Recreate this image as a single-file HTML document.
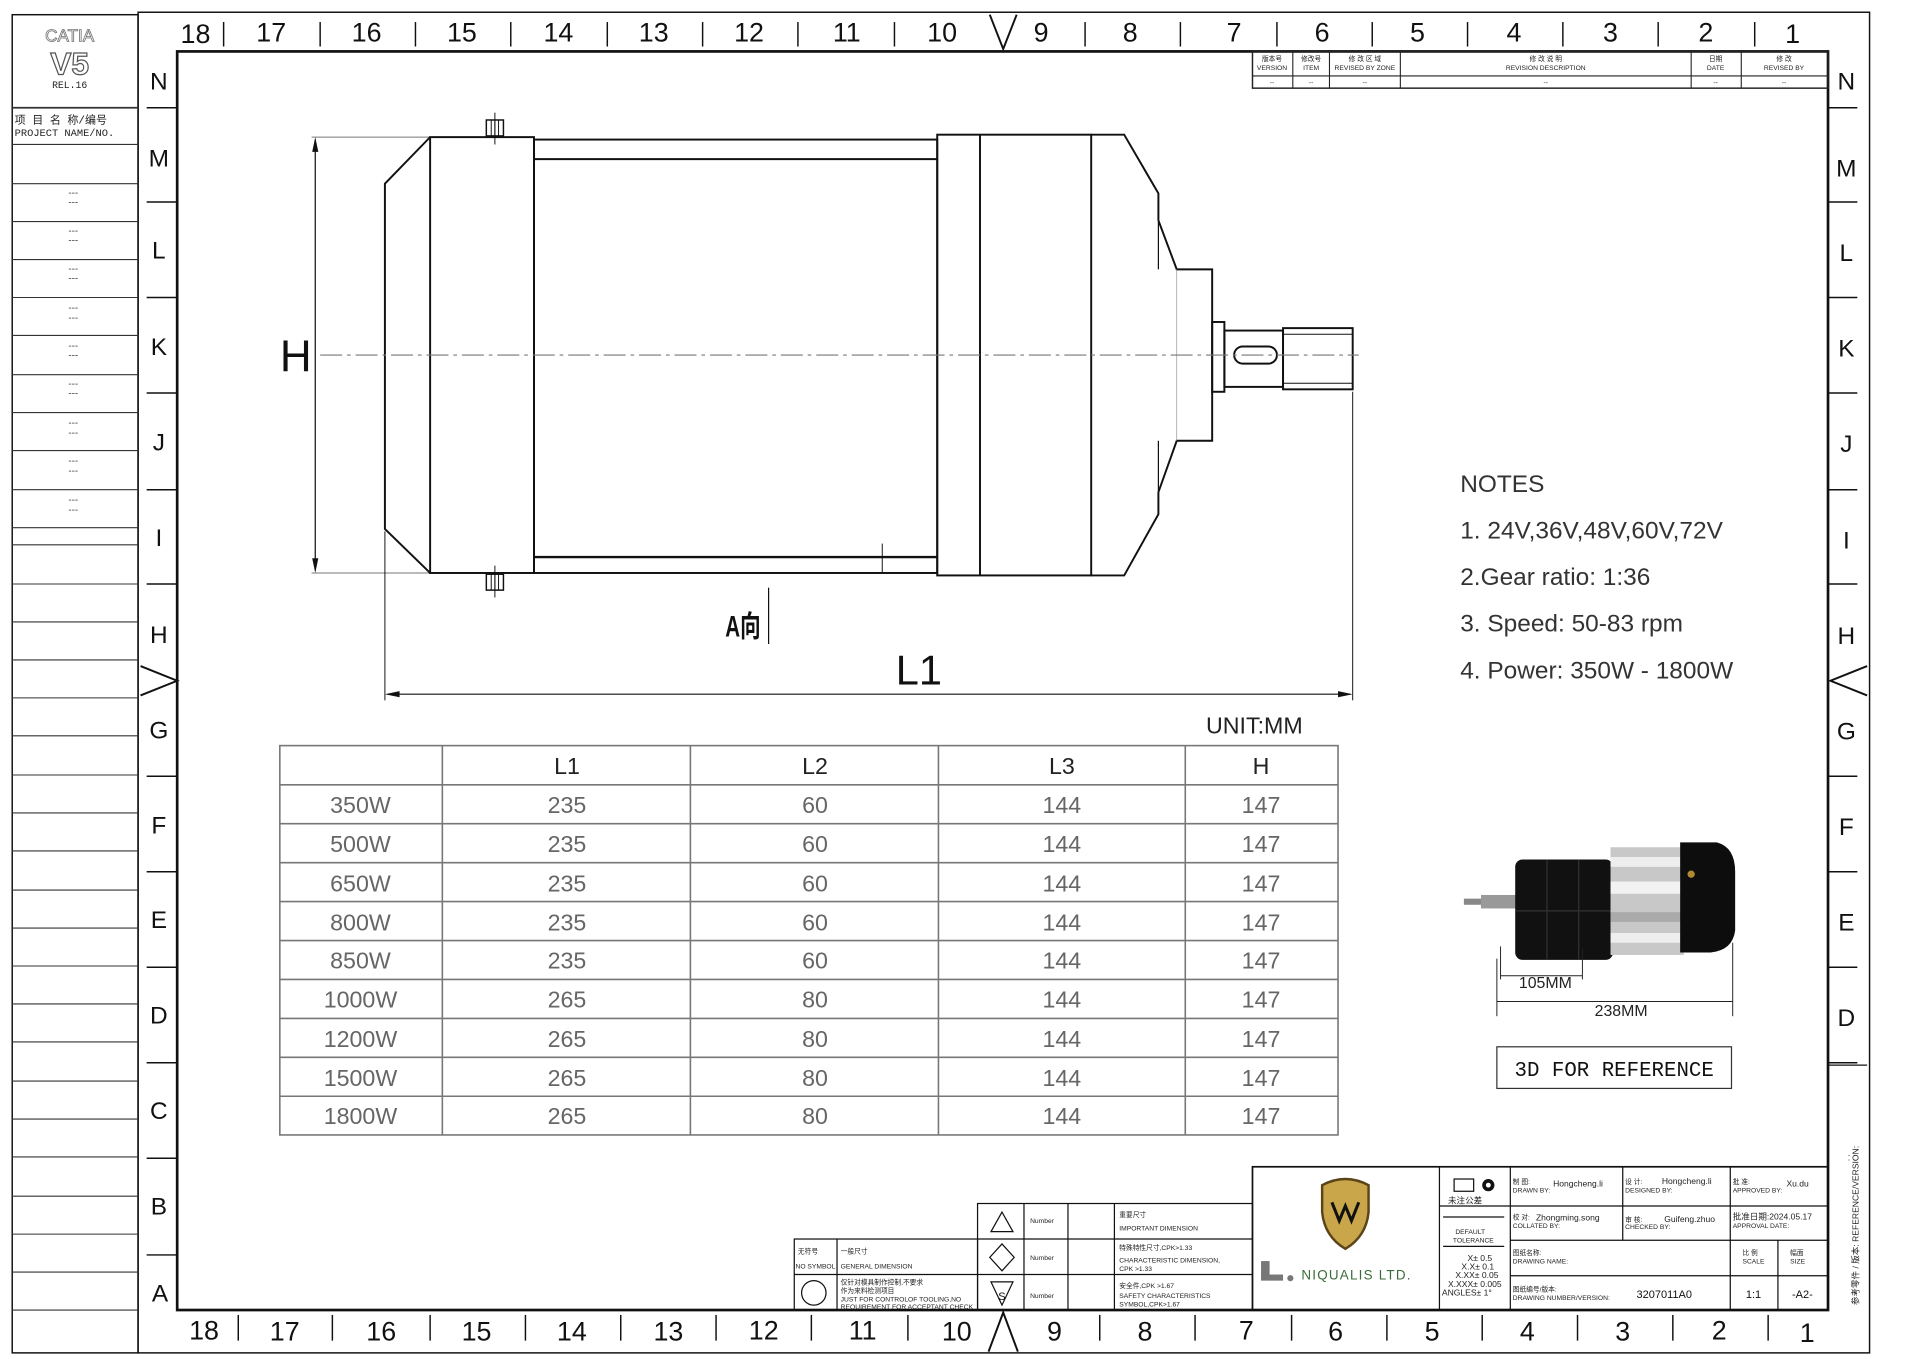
<!DOCTYPE html>
<html><head><meta charset="utf-8"><style>
html,body{margin:0;padding:0;background:#fff;}
svg{display:block;}
text{font-family:"Liberation Sans","Noto Sans CJK SC",sans-serif;}
.m{font-family:"Liberation Mono","Noto Sans CJK SC",monospace;}
.r{font-size:22px;text-anchor:middle;fill:#111;}
.l{font-size:20px;text-anchor:middle;fill:#111;}
.t{font-size:19px;text-anchor:middle;fill:#666;}
.th{font-size:19px;text-anchor:middle;fill:#222;}
.s{font-size:5.5px;fill:#222;}
</style></head><body>
<svg width="1916" height="1359" viewBox="0 0 1568 1110" preserveAspectRatio="none" xmlns="http://www.w3.org/2000/svg">
<rect width="1568" height="1110" fill="#fff"/>
<!-- outer frames -->
<g fill="none" stroke="#111">
<rect x="10" y="12" width="103" height="1093" stroke-width="1.2"/>
<rect x="113" y="10" width="1417" height="1095" stroke-width="1.2"/>
<rect x="145" y="42" width="1351" height="1028" stroke-width="2.2"/>
</g>
<!-- left panel -->
<g stroke="#333" stroke-width="0.9">
<line x1="10" y1="88" x2="113" y2="88" stroke-width="1.4"/>
<line x1="10" y1="118" x2="113" y2="118"/><line x1="10" y1="150" x2="113" y2="150"/><line x1="10" y1="181" x2="113" y2="181"/><line x1="10" y1="212" x2="113" y2="212"/><line x1="10" y1="243" x2="113" y2="243"/><line x1="10" y1="274" x2="113" y2="274"/><line x1="10" y1="306" x2="113" y2="306"/><line x1="10" y1="337" x2="113" y2="337"/><line x1="10" y1="368" x2="113" y2="368"/><line x1="10" y1="400" x2="113" y2="400"/><line x1="10" y1="431" x2="113" y2="431"/><line x1="10" y1="445" x2="113" y2="445"/><line x1="10" y1="477" x2="113" y2="477"/><line x1="10" y1="508" x2="113" y2="508"/><line x1="10" y1="539" x2="113" y2="539"/><line x1="10" y1="570" x2="113" y2="570"/><line x1="10" y1="601" x2="113" y2="601"/><line x1="10" y1="633" x2="113" y2="633"/><line x1="10" y1="664" x2="113" y2="664"/><line x1="10" y1="695" x2="113" y2="695"/><line x1="10" y1="727" x2="113" y2="727"/><line x1="10" y1="758" x2="113" y2="758"/><line x1="10" y1="789" x2="113" y2="789"/><line x1="10" y1="820" x2="113" y2="820"/><line x1="10" y1="851" x2="113" y2="851"/><line x1="10" y1="883" x2="113" y2="883"/><line x1="10" y1="914" x2="113" y2="914"/><line x1="10" y1="945" x2="113" y2="945"/><line x1="10" y1="977" x2="113" y2="977"/><line x1="10" y1="1008" x2="113" y2="1008"/><line x1="10" y1="1039" x2="113" y2="1039"/><line x1="10" y1="1070" x2="113" y2="1070"/>
</g>
<text x="57" y="34" font-size="14" text-anchor="middle" fill="#fff" stroke="#777" stroke-width="0.7">CATIA</text>
<text x="57" y="61" font-size="26" font-weight="bold" text-anchor="middle" fill="#fff" stroke="#555" stroke-width="1">V5</text>
<text x="57" y="72" font-size="8" text-anchor="middle" class="m" fill="#222">REL.16</text>
<text x="12" y="101" font-size="9" class="m" fill="#222">项 目 名 称/编号</text>
<text x="12" y="111" font-size="8.5" class="m" fill="#222">PROJECT NAME/NO.</text>
<g font-size="8" fill="#444" text-anchor="middle" class="m">
<text x="60" y="160">---</text><text x="60" y="168">---</text>
<text x="60" y="191">---</text><text x="60" y="199">---</text>
<text x="60" y="222">---</text><text x="60" y="230">---</text>
<text x="60" y="254">---</text><text x="60" y="262">---</text>
<text x="60" y="285">---</text><text x="60" y="293">---</text>
<text x="60" y="316">---</text><text x="60" y="324">---</text>
<text x="60" y="348">---</text><text x="60" y="356">---</text>
<text x="60" y="379">---</text><text x="60" y="387">---</text>
<text x="60" y="411">---</text><text x="60" y="419">---</text>
</g>
<!-- top ruler -->
<g stroke="#111" stroke-width="1.2">
<line x1="183" y1="18" x2="183" y2="38"/><line x1="262" y1="18" x2="262" y2="38"/><line x1="340" y1="18" x2="340" y2="38"/><line x1="418" y1="18" x2="418" y2="38"/><line x1="497" y1="18" x2="497" y2="38"/><line x1="575" y1="18" x2="575" y2="38"/><line x1="653" y1="18" x2="653" y2="38"/><line x1="732" y1="18" x2="732" y2="38"/><line x1="888" y1="18" x2="888" y2="38"/><line x1="966" y1="18" x2="966" y2="38"/><line x1="1045" y1="18" x2="1045" y2="38"/><line x1="1123" y1="18" x2="1123" y2="38"/><line x1="1201" y1="18" x2="1201" y2="38"/><line x1="1279" y1="18" x2="1279" y2="38"/><line x1="1357" y1="18" x2="1357" y2="38"/><line x1="1436" y1="18" x2="1436" y2="38"/>
<polyline points="810,12 821,40 832,12" fill="none" stroke-width="1.6"/>
</g>
<g class="r">
<text x="160" y="35">18</text><text x="222" y="34">17</text><text x="300" y="34">16</text><text x="378" y="34">15</text><text x="457" y="34">14</text><text x="535" y="34">13</text><text x="613" y="34">12</text><text x="693" y="34">11</text><text x="771" y="34">10</text><text x="852" y="34">9</text><text x="925" y="34">8</text><text x="1010" y="34">7</text><text x="1082" y="34">6</text><text x="1160" y="34">5</text><text x="1239" y="34">4</text><text x="1318" y="34">3</text><text x="1396" y="34">2</text><text x="1467" y="35">1</text>
</g>
<!-- bottom ruler -->
<g stroke="#111" stroke-width="1.2">
<line x1="195" y1="1074" x2="195" y2="1095"/><line x1="272" y1="1074" x2="272" y2="1095"/><line x1="352" y1="1074" x2="352" y2="1095"/><line x1="430" y1="1074" x2="430" y2="1095"/><line x1="508" y1="1074" x2="508" y2="1095"/><line x1="586" y1="1074" x2="586" y2="1095"/><line x1="664" y1="1074" x2="664" y2="1095"/><line x1="743" y1="1074" x2="743" y2="1095"/><line x1="900" y1="1074" x2="900" y2="1095"/><line x1="978" y1="1074" x2="978" y2="1095"/><line x1="1057" y1="1074" x2="1057" y2="1095"/><line x1="1135" y1="1074" x2="1135" y2="1095"/><line x1="1213" y1="1074" x2="1213" y2="1095"/><line x1="1291" y1="1074" x2="1291" y2="1095"/><line x1="1369" y1="1074" x2="1369" y2="1095"/><line x1="1447" y1="1074" x2="1447" y2="1095"/>
<polyline points="809,1104 821,1072 833,1104" fill="none" stroke-width="1.6"/>
</g>
<g class="r">
<text x="167" y="1094">18</text><text x="233" y="1095">17</text><text x="312" y="1095">16</text><text x="390" y="1095">15</text><text x="468" y="1095">14</text><text x="547" y="1095">13</text><text x="625" y="1094">12</text><text x="706" y="1094">11</text><text x="783" y="1095">10</text><text x="863" y="1095">9</text><text x="937" y="1095">8</text><text x="1020" y="1094">7</text><text x="1093" y="1095">6</text><text x="1172" y="1095">5</text><text x="1250" y="1095">4</text><text x="1328" y="1095">3</text><text x="1407" y="1094">2</text><text x="1479" y="1096">1</text>
</g>
<!-- left ruler -->
<g stroke="#111" stroke-width="1.2">
<line x1="120" y1="88" x2="145" y2="88"/><line x1="120" y1="165" x2="145" y2="165"/><line x1="120" y1="243" x2="145" y2="243"/><line x1="120" y1="321" x2="145" y2="321"/><line x1="120" y1="400" x2="145" y2="400"/><line x1="120" y1="477" x2="145" y2="477"/><line x1="120" y1="634" x2="145" y2="634"/><line x1="120" y1="712" x2="145" y2="712"/><line x1="120" y1="790" x2="145" y2="790"/><line x1="120" y1="868" x2="145" y2="868"/><line x1="120" y1="946" x2="145" y2="946"/><line x1="120" y1="1025" x2="145" y2="1025"/>
<polyline points="115,544 145,556 115,568" fill="none" stroke-width="1.6"/>
<line x1="1496" y1="88" x2="1520" y2="88"/><line x1="1496" y1="165" x2="1520" y2="165"/><line x1="1496" y1="243" x2="1520" y2="243"/><line x1="1496" y1="321" x2="1520" y2="321"/><line x1="1496" y1="400" x2="1520" y2="400"/><line x1="1496" y1="477" x2="1520" y2="477"/><line x1="1496" y1="634" x2="1520" y2="634"/><line x1="1496" y1="712" x2="1520" y2="712"/><line x1="1496" y1="790" x2="1520" y2="790"/><line x1="1496" y1="868" x2="1520" y2="868"/>
<polyline points="1528,544 1498,556 1528,568" fill="none" stroke-width="1.6"/>
</g>
<g class="l">
<text x="130" y="73">N</text><text x="130" y="136">M</text><text x="130" y="211">L</text><text x="130" y="290">K</text><text x="130" y="368">J</text><text x="130" y="446">I</text><text x="130" y="525">H</text><text x="130" y="603">G</text><text x="130" y="681">F</text><text x="130" y="758">E</text><text x="130" y="836">D</text><text x="130" y="914">C</text><text x="130" y="992">B</text><text x="131" y="1063">A</text>
<text x="1511" y="73">N</text><text x="1511" y="144">M</text><text x="1511" y="213">L</text><text x="1511" y="291">K</text><text x="1511" y="369">J</text><text x="1511" y="448">I</text><text x="1511" y="526">H</text><text x="1511" y="604">G</text><text x="1511" y="682">F</text><text x="1511" y="760">E</text><text x="1511" y="838">D</text>
</g>
<!-- revision block -->
<g stroke="#222" stroke-width="0.9" fill="none">
<rect x="1025" y="42" width="471" height="30" stroke-width="1.2"/>
<line x1="1025" y1="62" x2="1496" y2="62"/>
<line x1="1058" y1="42" x2="1058" y2="72"/><line x1="1088" y1="42" x2="1088" y2="72"/><line x1="1146" y1="42" x2="1146" y2="72"/><line x1="1384" y1="42" x2="1384" y2="72"/><line x1="1425" y1="42" x2="1425" y2="72"/>
</g>
<g class="s" text-anchor="middle">
<text x="1041" y="50">版本号</text><text x="1041" y="57">VERSION</text>
<text x="1073" y="50">修改号</text><text x="1073" y="57">ITEM</text>
<text x="1117" y="50">修 改 区 域</text><text x="1117" y="57">REVISED BY ZONE</text>
<text x="1265" y="50">修 改 说 明</text><text x="1265" y="57">REVISION DESCRIPTION</text>
<text x="1404" y="50">日期</text><text x="1404" y="57">DATE</text>
<text x="1460" y="50">修 改</text><text x="1460" y="57">REVISED BY</text>
<text x="1041" y="69">--</text><text x="1073" y="69">--</text><text x="1117" y="69">--</text><text x="1265" y="69">--</text><text x="1404" y="69">--</text><text x="1460" y="69">--</text>
</g>
<!-- motor drawing -->
<g stroke="#111" stroke-width="1.6" fill="none">
<line x1="255" y1="112" x2="352" y2="112" stroke-width="0.8" stroke="#777"/>
<line x1="255" y1="468" x2="352" y2="468" stroke-width="0.8" stroke="#777"/>
<line x1="258" y1="114" x2="258" y2="466" stroke-width="1"/>
<polygon points="258,112 255.5,124 260.5,124" fill="#111" stroke="none"/>
<polygon points="258,468 255.5,456 260.5,456" fill="#111" stroke="none"/>
<polyline points="352,112 315,150 315,432 352,468"/>
<rect x="352" y="112" width="85" height="356"/>
<rect x="437" y="114" width="330" height="354"/>
<line x1="437" y1="130" x2="767" y2="130"/>
<line x1="437" y1="455" x2="767" y2="455" stroke-width="2"/>
<line x1="722" y1="444" x2="722" y2="468" stroke-width="0.8"/>
<rect x="767" y="110" width="126" height="360"/>
<line x1="802" y1="110" x2="802" y2="470"/>
<polyline points="893,110 920,110 948,158 948,180"/>
<polyline points="948,180 963,220 992,220 992,360 963,360 948,402"/>
<polyline points="948,402 948,420 920,470 893,470"/>
<line x1="948" y1="180" x2="948" y2="220" stroke-width="1"/>
<line x1="948" y1="360" x2="948" y2="402" stroke-width="1"/>
<line x1="963" y1="220" x2="963" y2="360" stroke-width="0.6" stroke="#999"/>
<rect x="992" y="263" width="10" height="57"/>
<rect x="1002" y="270" width="48" height="46"/>
<rect x="1010" y="283" width="35" height="14" rx="7"/>
<rect x="1050" y="268" width="57" height="50"/>
<line x1="1050" y1="273" x2="1107" y2="273" stroke-width="0.8"/>
<line x1="1050" y1="313" x2="1107" y2="313" stroke-width="0.8"/>
<!-- bolts -->
<rect x="398" y="98" width="14" height="13" stroke-width="1.2"/>
<line x1="402" y1="98" x2="402" y2="111" stroke-width="0.8"/><line x1="405" y1="98" x2="405" y2="111" stroke-width="0.8"/><line x1="408" y1="98" x2="408" y2="111" stroke-width="0.8"/>
<line x1="405" y1="92" x2="405" y2="118" stroke-width="0.8"/>
<rect x="398" y="469" width="14" height="13" stroke-width="1.2"/>
<line x1="402" y1="469" x2="402" y2="482" stroke-width="0.8"/><line x1="405" y1="469" x2="405" y2="482" stroke-width="0.8"/><line x1="408" y1="469" x2="408" y2="482" stroke-width="0.8"/>
<line x1="405" y1="462" x2="405" y2="488" stroke-width="0.8"/>
<!-- L1 dim -->
<line x1="315" y1="434" x2="315" y2="572" stroke-width="0.8"/>
<line x1="1107" y1="320" x2="1107" y2="572" stroke-width="0.8"/>
<line x1="317" y1="567" x2="1105" y2="567" stroke-width="1"/>
<line x1="629" y1="480" x2="629" y2="526" stroke-width="1"/>
</g>
<polygon points="315,567 327,564.5 327,569.5" fill="#111"/>
<polygon points="1107,567 1095,564.5 1095,569.5" fill="#111"/>
<line x1="262" y1="290" x2="1112" y2="290" stroke="#777" stroke-width="1" stroke-dasharray="18,4,3,4"/>
<text x="242" y="303" font-size="36" text-anchor="middle" fill="#111">H</text>
<text x="752" y="559" font-size="34" text-anchor="middle" fill="#111">L1</text>
<text x="608" y="520" font-size="24" text-anchor="middle" fill="#111" font-weight="bold" transform="translate(608 520) scale(0.7 1) translate(-608 -520)">A向</text>
<!-- notes -->
<g font-size="20" fill="#333">
<text x="1195" y="402">NOTES</text>
<text x="1195" y="440">1. 24V,36V,48V,60V,72V</text>
<text x="1195" y="478">2.Gear ratio: 1:36</text>
<text x="1195" y="516">3. Speed: 50-83 rpm</text>
<text x="1195" y="554">4. Power: 350W - 1800W</text>
</g>
<text x="987" y="599" font-size="19" fill="#222">UNIT:MM</text>
<!-- table -->
<g stroke="#777" stroke-width="1.3" fill="none">
<rect x="229" y="609" width="866" height="318"/>
<line x1="362" y1="609" x2="362" y2="927"/><line x1="565" y1="609" x2="565" y2="927"/><line x1="768" y1="609" x2="768" y2="927"/><line x1="970" y1="609" x2="970" y2="927"/>
<line x1="229" y1="641" x2="1095" y2="641"/><line x1="229" y1="672.8" x2="1095" y2="672.8"/><line x1="229" y1="704.6" x2="1095" y2="704.6"/><line x1="229" y1="736.4" x2="1095" y2="736.4"/><line x1="229" y1="768.2" x2="1095" y2="768.2"/><line x1="229" y1="800" x2="1095" y2="800"/><line x1="229" y1="831.8" x2="1095" y2="831.8"/><line x1="229" y1="863.6" x2="1095" y2="863.6"/><line x1="229" y1="895.4" x2="1095" y2="895.4"/>
</g>
<g class="th"><text x="464" y="632">L1</text><text x="667" y="632">L2</text><text x="869" y="632">L3</text><text x="1032" y="632">H</text></g>
<g class="t">
<text x="295" y="664">350W</text><text x="464" y="664">235</text><text x="667" y="664">60</text><text x="869" y="664">144</text><text x="1032" y="664">147</text>
<text x="295" y="696">500W</text><text x="464" y="696">235</text><text x="667" y="696">60</text><text x="869" y="696">144</text><text x="1032" y="696">147</text>
<text x="295" y="728">650W</text><text x="464" y="728">235</text><text x="667" y="728">60</text><text x="869" y="728">144</text><text x="1032" y="728">147</text>
<text x="295" y="760">800W</text><text x="464" y="760">235</text><text x="667" y="760">60</text><text x="869" y="760">144</text><text x="1032" y="760">147</text>
<text x="295" y="791">850W</text><text x="464" y="791">235</text><text x="667" y="791">60</text><text x="869" y="791">144</text><text x="1032" y="791">147</text>
<text x="295" y="823">1000W</text><text x="464" y="823">265</text><text x="667" y="823">80</text><text x="869" y="823">144</text><text x="1032" y="823">147</text>
<text x="295" y="855">1200W</text><text x="464" y="855">265</text><text x="667" y="855">80</text><text x="869" y="855">144</text><text x="1032" y="855">147</text>
<text x="295" y="887">1500W</text><text x="464" y="887">265</text><text x="667" y="887">80</text><text x="869" y="887">144</text><text x="1032" y="887">147</text>
<text x="295" y="918">1800W</text><text x="464" y="918">265</text><text x="667" y="918">80</text><text x="869" y="918">144</text><text x="1032" y="918">147</text>
</g>
<!-- 3D photo -->
<rect x="1198" y="734" width="26" height="5" fill="#888"/>
<rect x="1212" y="731" width="30" height="11" fill="#999"/>
<rect x="1240" y="702" width="80" height="82" rx="6" fill="#111"/>
<line x1="1266" y1="702" x2="1266" y2="784" stroke="#333"/><line x1="1292" y1="702" x2="1292" y2="784" stroke="#333"/>
<line x1="1240" y1="744" x2="1320" y2="744" stroke="#333"/>
<rect x="1318" y="692" width="60" height="88" fill="#c8c8c8"/>
<rect x="1318" y="700" width="60" height="8" fill="#eee"/><rect x="1318" y="720" width="60" height="10" fill="#f2f2f2"/><rect x="1318" y="745" width="60" height="8" fill="#aaa"/><rect x="1318" y="762" width="60" height="8" fill="#eee"/>
<path d="M1375,688 L1405,688 Q1420,692 1420,712 L1420,760 Q1418,776 1400,778 L1375,778 Z" fill="#0d0d0d"/>
<circle cx="1384" cy="714" r="3" fill="#b08a30"/>
<g stroke="#222" stroke-width="0.8">
<line x1="1228" y1="773" x2="1228" y2="800"/><line x1="1295" y1="775" x2="1295" y2="800"/>
<line x1="1228" y1="797" x2="1295" y2="797"/>
<line x1="1225" y1="783" x2="1225" y2="830"/><line x1="1418" y1="770" x2="1418" y2="830"/>
<line x1="1225" y1="818" x2="1418" y2="818"/>
</g>
<text x="1243" y="807" font-size="13" fill="#222">105MM</text>
<text x="1305" y="830" font-size="13" fill="#222">238MM</text>
<rect x="1225" y="855" width="192" height="34" fill="none" stroke="#333" stroke-width="1"/>
<text x="1321" y="879" font-size="17" text-anchor="middle" class="m" fill="#111">3D FOR REFERENCE</text>
<!-- title block -->
<g stroke="#111" stroke-width="1" fill="none">
<rect x="1025" y="953" width="471" height="117" stroke-width="1.4"/>
<line x1="1178" y1="953" x2="1178" y2="1070"/>
<line x1="1236" y1="953" x2="1236" y2="1070"/>
<line x1="1178" y1="985" x2="1496" y2="985"/>
<line x1="1236" y1="1013" x2="1496" y2="1013"/>
<line x1="1236" y1="1042" x2="1496" y2="1042"/>
<line x1="1328" y1="953" x2="1328" y2="1013"/>
<line x1="1416" y1="953" x2="1416" y2="1070"/>
<line x1="1455" y1="1013" x2="1455" y2="1070"/>
<line x1="1496" y1="870" x2="1528" y2="870"/>
<rect x="800" y="983" width="225" height="87"/>
<line x1="800" y1="1012" x2="1025" y2="1012"/><line x1="800" y1="1041" x2="1025" y2="1041"/>
<line x1="838" y1="983" x2="838" y2="1070"/><line x1="874" y1="983" x2="874" y2="1070"/><line x1="912" y1="983" x2="912" y2="1070"/>
<rect x="650" y="1012" width="150" height="58"/>
<line x1="650" y1="1041" x2="800" y2="1041"/><line x1="685" y1="1012" x2="685" y2="1070"/>
<polygon points="820,990 811,1006 829,1006"/>
<polygon points="820,1016 810,1027 820,1038 830,1027"/>
<polygon points="811,1047 829,1047 820,1066"/>
<circle cx="666" cy="1056" r="10"/>
<rect x="1190" y="963" width="16" height="10"/>
<line x1="1181" y1="994" x2="1231" y2="994"/><line x1="1181" y1="1018" x2="1231" y2="1018"/>
</g>
<circle cx="1218" cy="968" r="5" fill="#111"/><circle cx="1218" cy="968" r="2" fill="#fff"/>
<text x="820" y="1062" font-size="9" text-anchor="middle" fill="#111">S</text>
<g class="s">
<text x="843" y="999">Number</text><text x="843" y="1029">Number</text><text x="843" y="1060">Number</text>
<text x="916" y="994">重要尺寸</text><text x="916" y="1005">IMPORTANT DIMENSION</text>
<text x="916" y="1021">特殊特性尺寸,CPK&gt;1.33</text><text x="916" y="1031">CHARACTERISTIC DIMENSION,</text><text x="916" y="1038">CPK &gt;1.33</text>
<text x="916" y="1052">安全件,CPK &gt;1.67</text><text x="916" y="1060">SAFETY CHARACTERISTICS</text><text x="916" y="1067">SYMBOL,CPK&gt;1.67</text>
<text x="653" y="1024">无符号</text><text x="651" y="1036">NO SYMBOL</text>
<text x="688" y="1024">一般尺寸</text><text x="688" y="1036">GENERAL DIMENSION</text>
<text x="688" y="1049">仅针对模具制作控制,不要求</text><text x="688" y="1056">作为来料检测项目</text><text x="688" y="1063">JUST FOR CONTROLOF TOOLING,NO</text><text x="688" y="1069">REQUIREMENT FOR ACCEPTANT CHECK</text>
<text x="1238" y="967">制 图:</text><text x="1238" y="974">DRAWN BY:</text><text x="1271" y="969" font-size="7">Hongcheng.li</text>
<text x="1330" y="967">设 计:</text><text x="1330" y="974">DESIGNED BY:</text><text x="1360" y="967" font-size="7">Hongcheng.li</text>
<text x="1418" y="967">批 准:</text><text x="1418" y="974">APPROVED BY:</text><text x="1462" y="969" font-size="7">Xu.du</text>
<text x="1238" y="996">校 对:</text><text x="1238" y="1003">COLLATED BY:</text><text x="1257" y="997" font-size="7">Zhongming.song</text>
<text x="1330" y="998">审 核:</text><text x="1330" y="1004">CHECKED BY:</text><text x="1362" y="998" font-size="7">Guifeng.zhuo</text>
<text x="1418" y="996" font-size="7">批准日期:2024.05.17</text><text x="1418" y="1003">APPROVAL DATE:</text>
<text x="1238" y="1025">图纸名称:</text><text x="1238" y="1032">DRAWING NAME:</text>
<text x="1426" y="1025">比 例</text><text x="1426" y="1032">SCALE</text>
<text x="1465" y="1025">幅面</text><text x="1465" y="1032">SIZE</text>
<text x="1238" y="1055">图纸编号/版本:</text><text x="1238" y="1062">DRAWING NUMBER/VERSION:</text>
<text x="1185" y="983" font-size="7">未注公差</text>
<text x="1191" y="1008">DEFAULT</text><text x="1189" y="1015">TOLERANCE</text>
<text x="1201" y="1030" font-size="7">X± 0.5</text><text x="1196" y="1037" font-size="7">X.X± 0.1</text><text x="1191" y="1044" font-size="7">X.XX± 0.05</text><text x="1185" y="1051" font-size="7">X.XXX± 0.005</text><text x="1180" y="1058" font-size="7">ANGLES± 1°</text>
</g>
<text x="1362" y="1060" font-size="9" text-anchor="middle" fill="#111">3207011A0</text>
<text x="1435" y="1060" font-size="9" text-anchor="middle" fill="#111">1:1</text>
<text x="1475" y="1060" font-size="9" text-anchor="middle" fill="#111">-A2-</text>
<text x="1512" y="948" font-size="8" fill="#444">: :</text>
<text transform="translate(1521 1066) rotate(-90)" font-size="7" fill="#222">参考零件 / 版本: REFERENCE/VERSION:</text>
<!-- logo -->
<path d="M1082,968 Q1101,958 1120,968 L1120,990 Q1118,1010 1101,1020 Q1084,1010 1082,990 Z" fill="#c9a64a" stroke="#5a4418" stroke-width="2"/>
<polyline points="1090,982 1096,997 1101,985 1106,997 1112,982" fill="none" stroke="#111" stroke-width="2.5"/>
<rect x="1032" y="1030" width="7" height="15" fill="#777"/><rect x="1032" y="1041" width="18" height="5" fill="#777"/>
<circle cx="1056" cy="1044" r="2.5" fill="#777"/>
<text x="1065" y="1045" font-size="11" fill="#3a6b3a" letter-spacing="1">NIQUALIS LTD.</text>
</svg>
</body></html>
